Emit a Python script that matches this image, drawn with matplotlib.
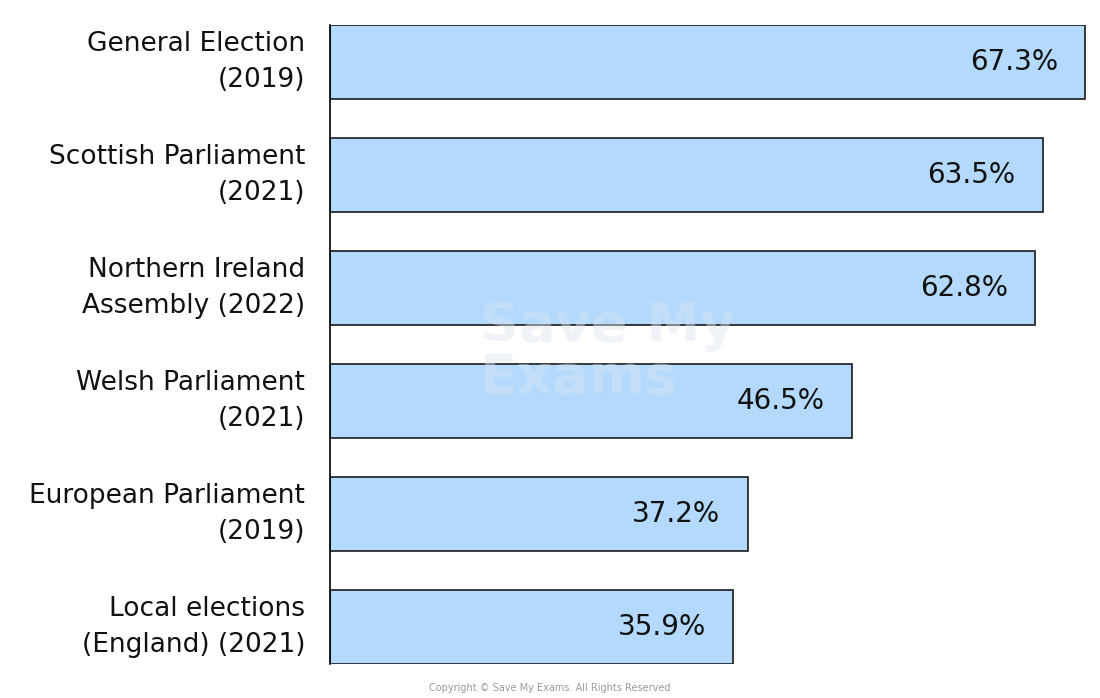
import matplotlib.pyplot as plt

# turnout by election type
elections = ["General Election\n(2019)", "Scottish Parliament\n(2021)",
             "Northern Ireland\nAssembly (2022)", "Welsh Parliament\n(2021)",
             "European Parliament\n(2019)", "Local elections\n(England) (2021)"]
turnout = [67.3, 63.5, 62.8, 46.5, 37.2, 35.9]
value_labels = ["67.3%", "63.5%", "62.8%", "46.5%", "37.2%", "35.9%"]

h = 0.655
fig = plt.figure(figsize=(11, 6.98), dpi=100)
ax = fig.add_axes([330 / 1100, 34 / 698, 770 / 1100, 639 / 698])

pos = range(len(turnout))
ax.barh(pos, turnout, height=h, color="#b3d9fd", edgecolor="#1a1a1a", linewidth=1.2)
ax.set_ylim(len(turnout) - 1 + h / 2, -h / 2)
ax.set_xlim(0, 68.6)

for i, (v, lab) in enumerate(zip(turnout, value_labels)):
    ax.annotate(lab, (v, i), xytext=(-19.5, 0), textcoords="offset points",
                ha="right", va="center", fontsize=20, color="#111111")

ax.set_yticks(list(pos))
ax.set_yticklabels(elections, fontsize=19, linespacing=1.5, color="#111111",
                   ha="right", va="center")
ax.tick_params(axis="y", length=0, pad=18)
ax.set_xticks([])
for s in ["top", "right", "bottom"]:
    ax.spines[s].set_visible(False)
ax.spines["left"].set_linewidth(1.2)

# faint watermark
fig.text(480 / 1100, 1 - 352 / 698, "Save My\nExams", fontsize=39, fontweight="bold",
         color="#dde6f0", alpha=0.45, ha="left", va="center", linespacing=1.0, zorder=0)

fig.text(0.5, 0.014, "Copyright \u00a9 Save My Exams. All Rights Reserved",
         fontsize=7, color="#9a9a9a", ha="center", va="center")

fig.savefig("out.png", dpi=100)
